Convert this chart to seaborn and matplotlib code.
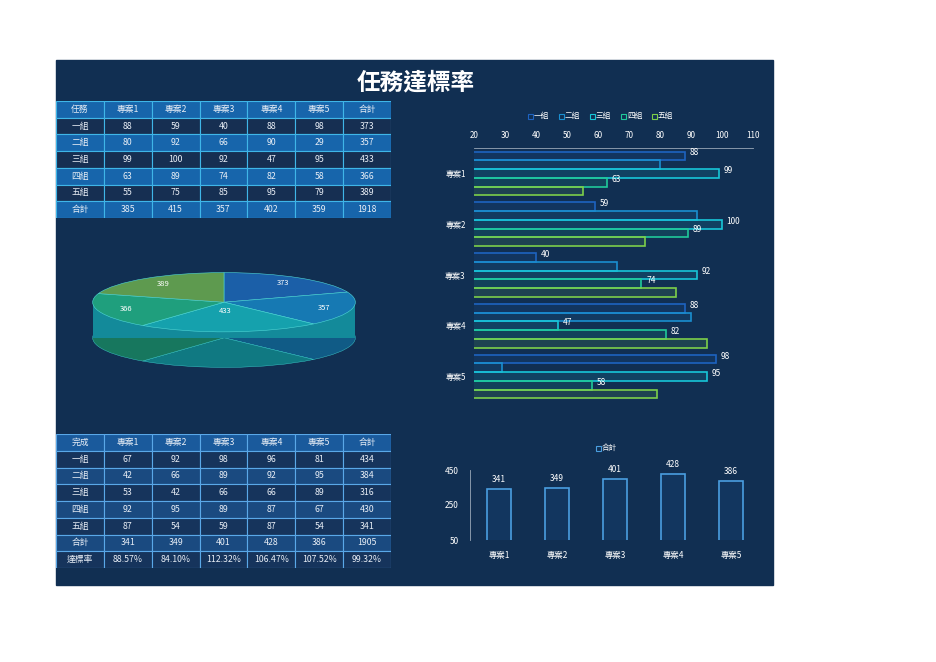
import numpy as np
import pandas as pd
import matplotlib
matplotlib.use("Agg")
import matplotlib.pyplot as plt
import seaborn as sns
from matplotlib.patches import Rectangle

sns.set_theme(style="white")
plt.rcParams['font.family'] = ['Noto Sans CJK TC', 'DejaVu Sans']

projects = ['專案1', '專案2', '專案3', '專案4', '專案5']
groups = ['一組', '二組', '三組', '四組', '五組']
target = [[88, 59, 40, 88, 98],
          [80, 92, 66, 90, 29],
          [99, 100, 92, 47, 95],
          [63, 89, 74, 82, 58],
          [55, 75, 85, 95, 79]]
target_group_sum = [373, 357, 433, 366, 389]
target_proj_sum = [385, 415, 357, 402, 359]
target_total = 1918
done = [[67, 92, 98, 96, 81],
        [42, 66, 89, 92, 95],
        [53, 42, 66, 66, 89],
        [92, 95, 89, 87, 67],
        [87, 54, 59, 87, 54]]
done_group_sum = [434, 384, 316, 430, 341]
done_proj_sum = [341, 349, 401, 428, 386]
done_total = 1905
rate = ['88.57%', '84.10%', '112.32%', '106.47%', '107.52%', '99.32%']
# bar labels visible in the reference (others hidden by overlap)
shown = [0, 2, 3]

colors = ['#1e63c0', '#1a8fd0', '#18c6d8', '#20c99a', '#7ccf4a']
pie_colors = ['#1b5fa8', '#1679b3', '#15a1ad', '#1f9f7d', '#5e9a4f']
bg = '#112f52'

fig = plt.figure(figsize=(9.36, 6.62), dpi=100)
fig.patch.set_facecolor('white')
fig.patches.append(Rectangle((56 / 936, 1 - 585 / 662), 717 / 936, 525 / 662,
                             transform=fig.transFigure, color=bg, zorder=-1))
fig.text(416 / 936, 1 - 82 / 662, '任務達標率', color='white', fontsize=17,
         fontweight='bold', ha='center', va='center')


def draw_table(rect, rows, bgs, edge):
    ax = fig.add_axes(rect)
    ax.set_xlim(0, 7)
    ax.set_ylim(len(rows), 0)
    ax.axis('off')
    for r, row in enumerate(rows):
        for c, val in enumerate(row):
            ax.add_patch(Rectangle((c, r), 1, 1, facecolor=bgs[r], edgecolor=edge, lw=0.8))
            ax.text(c + 0.5, r + 0.5, str(val), color='#e8eef6', fontsize=6.3,
                    ha='center', va='center')
    return ax


rows1 = [['任務'] + projects + ['合計']]
for g in range(5):
    rows1.append([groups[g]] + [target[g][p] for p in range(5)] + [target_group_sum[g]])
rows1.append(['合計'] + target_proj_sum + [target_total])
bgs1 = ['#1765ab', '#162f52', '#1765ab', '#162f52', '#1765ab', '#162f52', '#1765ab']
draw_table([56 / 936, 1 - 218 / 662, 335 / 936, 117 / 662], rows1, bgs1, '#3fb6e8')

rows2 = [['完成'] + projects + ['合計']]
for g in range(5):
    rows2.append([groups[g]] + [done[g][p] for p in range(5)] + [done_group_sum[g]])
rows2.append(['合計'] + done_proj_sum + [done_total])
rows2.append(['達標率'] + rate)
bgs2 = ['#1a5a9c', '#16345c', '#1a4a80', '#16345c', '#1a4a80', '#16345c', '#1a4a80', '#16345c']
draw_table([56 / 936, 1 - 568 / 662, 335 / 936, 134 / 662], rows2, bgs2, '#5aa8e8')

# pseudo 3D pie
axp = fig.add_axes([90 / 936, 1 - 368 / 662, 268 / 936, 96 / 662])
depth = 1.2
wedges, _ = axp.pie(target_group_sum, colors=pie_colors, startangle=90, counterclock=False,
                    center=(0, -depth), radius=1,
                    wedgeprops=dict(edgecolor='#3fd0d0', linewidth=0.3))
for w in wedges:
    w.set_facecolor(np.array(w.get_facecolor()) * [0.75, 0.75, 0.75, 1])
axp.add_patch(Rectangle((-1, -depth), 2, depth, facecolor='#138a9a', edgecolor='none', zorder=1))
tops, _ = axp.pie(target_group_sum, colors=pie_colors, startangle=90, counterclock=False,
                  radius=1, wedgeprops=dict(edgecolor='#4fd6d6', linewidth=0.4))
for w in tops:
    w.set_zorder(2)
ang = 90.0
for v in target_group_sum:
    span = 360 * v / sum(target_group_sum)
    mid = np.deg2rad(ang - span / 2)
    rr = 0.78 if v != 433 else 0.3
    axp.text(rr * np.cos(mid), rr * np.sin(mid), str(v), color='white', fontsize=5.5,
             ha='center', va='center', zorder=3)
    ang -= span
axp.set_aspect('auto')
axp.set_xlim(-1.02, 1.02)
axp.set_ylim(-1 - depth - 0.02, 1.02)

# horizontal bar chart
df = pd.DataFrame([(projects[p], groups[g], target[g][p]) for p in range(5) for g in range(5)],
                  columns=['project', 'group', 'value'])
axb = fig.add_axes([474 / 936, 1 - 402 / 662, 279 / 936, 254 / 662])
sns.barplot(data=df, y='project', x='value', hue='group', palette=colors, orient='h',
            width=0.86, linewidth=1.2, ax=axb, legend=False)
for g, cont in enumerate(axb.containers):
    for p, bar in enumerate(cont):
        bar.set_edgecolor(colors[g])
        bar.set_facecolor(matplotlib.colors.to_rgba(colors[g], 0.12))
        if g in shown:
            axb.text(bar.get_width() + 1.5, bar.get_y() + bar.get_height() / 2 - 0.06,
                     str(target[g][p]), color='white', fontsize=6, va='center')
axb.set_facecolor('none')
axb.set_xlim(20, 110)
axb.set_xticks(range(20, 111, 10))
axb.xaxis.tick_top()
axb.tick_params(axis='both', colors='white', labelsize=5.8, length=0, pad=6)
for s in ['right', 'bottom', 'left']:
    axb.spines[s].set_visible(False)
axb.spines['top'].set_color('#9aa8b8')
axb.spines['top'].set_linewidth(0.6)
axb.set_xlabel('')
axb.set_ylabel('')
lx = 528
for g in range(5):
    fig.patches.append(Rectangle((lx / 936, 1 - 119 / 662), 5 / 936, 5 / 662, transform=fig.transFigure,
                                 facecolor='none', edgecolor=colors[g], lw=0.8))
    fig.text((lx + 6) / 936, 1 - 116 / 662, groups[g], color='white', fontsize=5.5, va='center')
    lx += 31

# column chart of totals
dfc = pd.DataFrame({'project': projects, 'total': done_proj_sum})
axc = fig.add_axes([470 / 936, 1 - 540 / 662, 290 / 936, 70 / 662])
sns.barplot(data=dfc, x='project', y='total', width=0.4, linewidth=1.2,
            color='#3a8fd8', ax=axc)
for bar, v in zip(axc.patches, done_proj_sum):
    bar.set_edgecolor('#4a9ee0')
    bar.set_facecolor(matplotlib.colors.to_rgba('#1a70c0', 0.12))
    axc.text(bar.get_x() + bar.get_width() / 2, v + 28, str(v), color='white', fontsize=6,
             ha='center', va='bottom')
axc.set_facecolor('none')
axc.set_ylim(50, 450)
axc.set_yticks([50, 250, 450])
axc.tick_params(axis='both', colors='white', labelsize=6, length=0, pad=8)
for s in ['right', 'top', 'bottom']:
    axc.spines[s].set_visible(False)
axc.spines['left'].set_color('#9aa8b8')
axc.spines['left'].set_linewidth(0.6)
axc.set_xlabel('')
axc.set_ylabel('')
fig.patches.append(Rectangle((596 / 936, 1 - 451 / 662), 5 / 936, 5 / 662, transform=fig.transFigure,
                             facecolor='none', edgecolor='#4a9ee0', lw=0.8))
fig.text(602 / 936, 1 - 448 / 662, '合計', color='white', fontsize=5.5, va='center')

fig.savefig('out.png', dpi=100, facecolor='white')
